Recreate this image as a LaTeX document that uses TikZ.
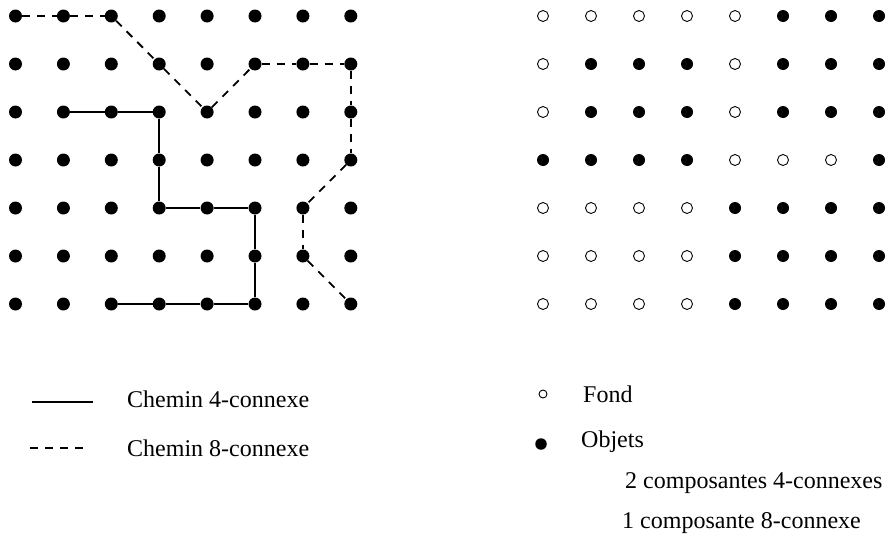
\documentclass[tikz,border=0pt]{standalone}
\usepackage{fontspec}
\setmainfont{Liberation Serif}
\usetikzlibrary{positioning}
\tikzset{
    objet/.style={
    circle,draw=none,fill=black,inner sep=0pt,minimum size=13pt
    },
    pix0/.style={
    circle,draw=black,line width=0.9pt,fill=white,inner sep=0pt,minimum size=11pt
    },
    pix1/.style={
    circle,draw=none,fill=black,inner sep=0pt,minimum size=12pt
    },
    legende/.style={
    inner sep=0pt,anchor=base west,font=\fontsize{24}{28}\selectfont
    },
    chemin4/.style={
    line width=1.8pt
    },
    chemin8/.style={
    line width=1.8pt,dash pattern=on 8pt off 7pt
    },
}
\begin{document}
\begin{tikzpicture}[x=1pt, y=-1pt]
   \useasboundingbox (0,0) rectangle (888,538);
   % grille de gauche : tous objets
   \foreach \i in {0,...,7}
     \foreach \j in {0,...,6}
       \node[objet] (g-\i-\j) at (15.5+47.9*\i, 16+48*\j) {};
   % grille de droite : fond / objets
   \foreach \j/\row in {0/{0,0,0,0,0,1,1,1},1/{0,1,1,1,0,1,1,1},2/{0,1,1,1,0,1,1,1},
                        3/{1,1,1,1,0,0,0,1},4/{0,0,0,0,1,1,1,1},5/{0,0,0,0,1,1,1,1},
                        6/{0,0,0,0,1,1,1,1}}
     \foreach \v [count=\i from 0] in \row
       \node[pix\v] (d-\i-\j) at (543+48*\i, 16+48*\j) {};

  \path[chemin4]
    (g-1-2) edge (g-2-2)
    (g-2-2) edge (g-3-2)
    (g-3-2) edge (g-3-3)
    (g-3-3) edge (g-3-4)
    (g-3-4) edge (g-4-4)
    (g-4-4) edge (g-5-4)
    (g-5-4) edge (g-5-5)
    (g-5-5) edge (g-5-6)
    (g-5-6) edge (g-4-6)
    (g-4-6) edge (g-3-6)
    (g-3-6) edge (g-2-6);
  \path[chemin8]
    (g-0-0) edge (g-1-0)
    (g-1-0) edge (g-2-0)
    (g-2-0) edge (g-3-1)
    (g-3-1) edge (g-4-2)
    (g-4-2) edge (g-5-1)
    (g-5-1) edge (g-6-1)
    (g-6-1) edge (g-7-1)
    (g-7-1) edge (g-7-2)
    (g-7-2) edge (g-7-3)
    (g-7-3) edge (g-6-4)
    (g-6-4) edge (g-6-5)
    (g-6-5) edge (g-7-6);

   % legende
   \coordinate (l4a) at (32,402);
   \coordinate (l4b) at (93,402);
   \coordinate (l8a) at (30,448);
   \coordinate (l8b) at (88,448);
   \draw[chemin4] (l4a) -- (l4b);
   \draw[chemin8] (l8a) -- (l8b);
   \node[legende] (t4) at (127,407) {Chemin 4-connexe};
   \node[legende] (t8) at (127,456) {Chemin 8-connexe};
   \node[pix0,minimum size=8pt] (lfond) at (543,394) {};
   \node[pix1,minimum width=10pt,minimum height=11.5pt] (lobj) at (541,444) {};
   \node[legende] (tfond) at (583,402) {Fond};
   \node[legende] (tobj) at (581,447) {Objets};
   \node[legende] (tc4) at (625,488) {2 composantes 4-connexes};
   \node[legende] (tc8) at (622,528) {1 composante 8-connexe};
  \end{tikzpicture}
\end{document}
